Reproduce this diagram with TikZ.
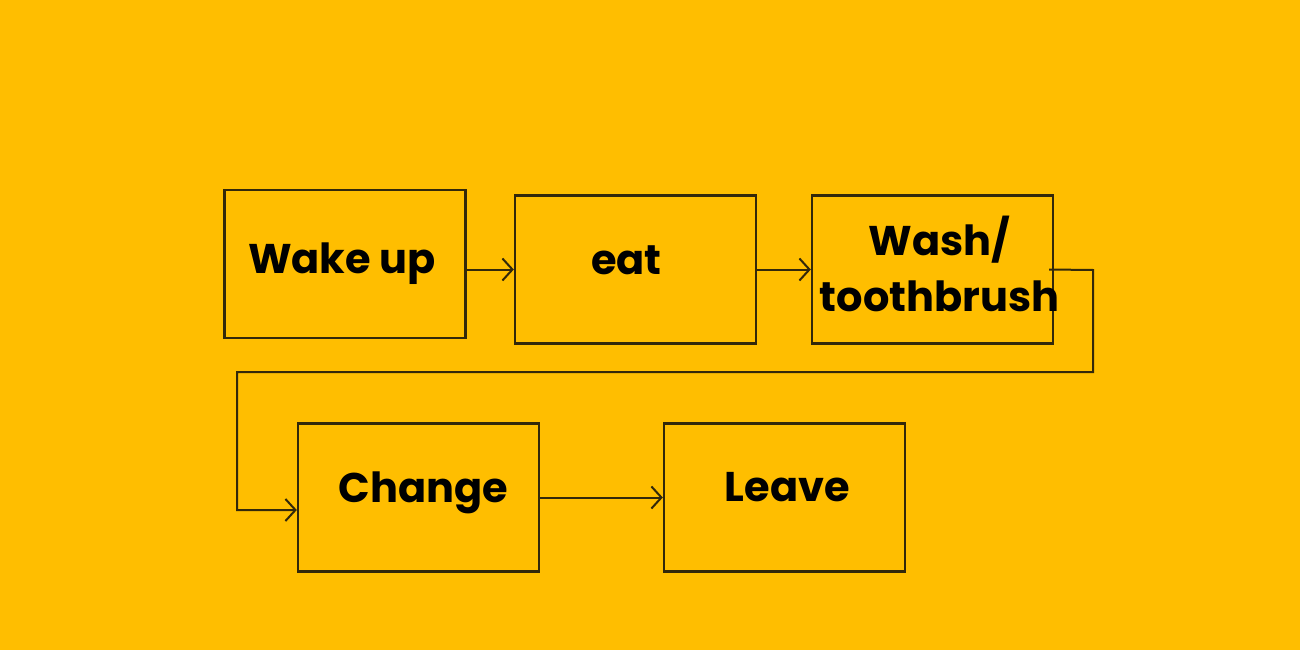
\documentclass[tikz,border=0pt]{standalone}
\usepackage{fontspec}
\setmainfont{Poppins}[BoldFont={* Bold}]
\usetikzlibrary{arrows.meta}
\definecolor{bg}{HTML}{FFBE00}
\definecolor{ln}{HTML}{33280A}
\tikzset{
  stepbox/.style={draw=ln, line width=2.4pt, minimum width=241pt, minimum height=148pt, inner sep=0pt},
  steptext/.style={inner sep=0pt, align=center, font=\fontsize{41.5}{56}\selectfont\bfseries, text=black},
  conn/.style={draw=ln, line width=2pt, -{Straight Barb[length=10pt,width=22pt,line width=2pt]}}
}
\begin{document}
\begin{tikzpicture}[x=1pt,y=-1pt]
\fill[bg] (0,0) rectangle (1300,650);
\useasboundingbox (0,0) rectangle (1300,650);
\node[stepbox] (b1) at (345,264) {};
\node[stepbox] (b2) at (635.5,269.5) {};
\node[stepbox] (b3) at (932.5,269.5) {};
\node[stepbox] (b4) at (418.5,497.5) {};
\node[stepbox] (b5) at (784.5,497.5) {};
\node[steptext] (t1) at ([shift={(-3,0)}]b1.center) {Wake up};
\node[steptext] (t2) at ([shift={(-9,-9)}]b2.center) {eat};
\node[steptext] (t3) at ([shift={(7,-6)}]b3.center) {Wash/\\toothbrush};
\node[steptext] (t4) at ([shift={(5,-5)}]b4.center) {Change};
\node[steptext] (t5) at ([shift={(3,-10)}]b5.center) {Leave};
\coordinate (c1) at (1093,270);
\coordinate (c2) at (1093,372);
\coordinate (c3) at (237,372);
\coordinate (c4) at (237,510);
\draw[conn] (b1.east |- b2.west) -- (b2.west);
\draw[conn] (b2.east) -- (b3.west);
\draw[conn] ([xshift=-5pt]b3.east) -- (c1) -- (c2) -- (c3) -- (c4) -- (b4.west |- c4);
\draw[conn] (b4.east) -- (b5.west);
\end{tikzpicture}
\end{document}
